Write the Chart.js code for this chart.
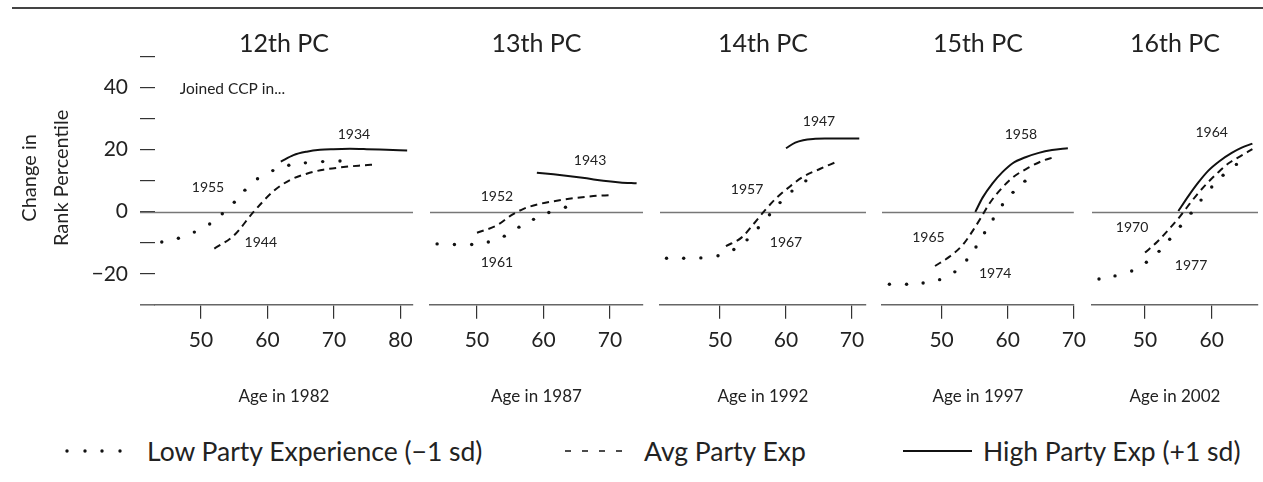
<!DOCTYPE html>
<html>
<head>
<meta charset="utf-8">
<script src="https://cdn.jsdelivr.net/npm/chart.js@4.4.1/dist/chart.umd.min.js"></script>
<style>
html,body{margin:0;padding:0;background:#fff;}
#wrap{position:relative;width:1263px;height:482px;overflow:hidden;font-family:Lato, "Noto Sans", sans-serif;color:#222;}
#wrap canvas{position:absolute;top:0;}
#topline{position:absolute;left:12px;top:7px;width:1251px;height:2px;background:#444;}
.legtxt{position:absolute;top:435px;font-size:26.5px;line-height:32px;white-space:nowrap;color:#222;}
.legsym{position:absolute;top:441px;}
</style>
</head>
<body>
<div id="wrap">
  <div id="topline"></div>
  <svg class="legsym" style="left:60px" width="70" height="20"><g fill="#111"><circle cx="7" cy="10" r="1.7"/><circle cx="25" cy="10" r="1.7"/><circle cx="42" cy="10" r="1.7"/><circle cx="60" cy="10" r="1.7"/></g></svg>
  <div class="legtxt" style="left:147px">Low Party Experience (−1 sd)</div>
  <svg class="legsym" style="left:560px" width="70" height="20"><line x1="5" y1="10" x2="64" y2="10" stroke="#111" stroke-width="1.7" stroke-dasharray="6,11"/></svg>
  <div class="legtxt" style="left:644px">Avg Party Exp</div>
  <svg class="legsym" style="left:900px" width="80" height="20"><line x1="3" y1="10" x2="72" y2="10" stroke="#111" stroke-width="2"/></svg>
  <div class="legtxt" style="left:983px">High Party Exp (+1 sd)</div>
</div>
<script>
// ---------------- data ----------------
const panelTitles = ['12th PC', '13th PC', '14th PC', '15th PC', '16th PC'];
const axisTitles = ['Age in 1982', 'Age in 1987', 'Age in 1992', 'Age in 1997', 'Age in 2002'];
const xMins = [43.08, 42.93, 40.91, 40.98, 42.05];
const xMaxs = [81.88, 74.96, 72.12, 70.0, 66.94];
const xTicks = [[50, 60, 70, 80], [50, 60, 70], [50, 60, 70], [50, 60, 70], [50, 60]];
const yMin = -30, yMax = 51.7;
const yTickValues = [-20, -10, 0, 10, 20, 30, 40, 50];
const yLabelValues = [-20, 0, 20, 40];
const yLabelTexts = ['−20', '0', '20', '40'];
const yTitle = ['Change in', 'Rank Percentile'];
const noteText = 'Joined CCP in...';
const noteAt = [46.8, 39.4];

// [age, change in rank percentile]
const low12 = [[44.1,-9.8],[46.6,-8.6],[49.0,-6.6],[51.3,-4.0],[53.2,-0.7],[55.0,3.0],[56.6,6.9],[58.5,10.6],[60.8,13.2],[63.2,14.9],[65.7,15.7],[68.3,16.1],[70.9,16.3]];
const avg12 = [[52.0,-11.9],[54.9,-7.8],[57.9,-0.1],[60.9,6.6],[63.4,10.2],[65.9,12.2],[68.4,13.5],[70.9,14.2],[73.7,14.8],[76.4,15.2]];
const high12 = [[62.0,16.1],[63.9,18.2],[65.9,19.3],[67.9,19.9],[69.9,20.1],[72.4,20.2],[74.9,20.1],[77.9,19.9],[81.0,19.7]];

const low13 = [[44.0,-10.4],[46.6,-10.6],[49.2,-10.6],[51.7,-9.8],[54.1,-7.9],[56.3,-5.0],[58.5,-2.5],[60.8,-0.3],[63.3,1.4]];
const avg13 = [[50.0,-6.8],[53.0,-4.4],[55.0,-1.4],[57.0,0.9],[59.5,2.5],[62.0,3.5],[64.5,4.3],[67.5,5.0],[70.1,5.3]];
const high13 = [[59.0,12.5],[61.5,12.0],[64.0,11.4],[66.5,10.7],[69.0,9.9],[71.5,9.4],[74.0,9.1]];

const low14 = [[41.9,-15.0],[44.5,-15.0],[47.1,-14.9],[49.7,-14.2],[52.1,-12.2],[54.1,-9.1],[55.8,-5.2],[57.5,-1.0],[59.1,2.9],[60.9,6.6],[63.0,9.9]];
const avg14 = [[50.9,-11.1],[53.3,-8.3],[55.0,-4.2],[56.8,0.4],[58.6,4.5],[60.6,8.1],[62.6,11.2],[65.2,13.8],[67.4,15.8]];
const high14 = [[60.0,20.4],[61.4,22.2],[62.6,23.0],[64.1,23.4],[65.9,23.5],[68.2,23.5],[71.1,23.5]];

const low15 = [[42.1,-23.4],[44.7,-23.4],[47.2,-23.0],[49.7,-21.9],[52.0,-19.4],[53.8,-15.6],[55.2,-11.4],[56.5,-6.8],[57.8,-2.4],[59.2,2.2],[60.8,6.2],[62.6,9.8]];
const avg15 = [[49.0,-17.5],[51.2,-14.5],[53.2,-10.7],[54.7,-6.2],[56.0,-1.8],[57.2,2.5],[58.7,6.6],[60.7,10.9],[63.2,14.2],[65.2,16.3],[67.1,17.6]];
const high15 = [[55.1,-0.1],[56.2,4.5],[57.7,9.1],[59.2,12.7],[60.7,15.5],[62.7,17.5],[64.7,18.9],[66.7,19.8],[69.1,20.4]];

const low16 = [[43.1,-21.7],[45.5,-20.7],[48.0,-19.1],[50.2,-16.3],[52.1,-12.8],[53.7,-8.9],[55.3,-4.7],[56.9,-0.5],[58.4,3.7],[60.0,7.9],[61.7,11.7],[63.7,15.2]];
const avg16 = [[50.0,-13.2],[51.8,-9.8],[53.5,-5.9],[55.0,-2.2],[56.3,1.4],[57.8,5.5],[59.3,9.1],[61.0,12.7],[62.7,15.8],[64.5,18.1],[66.1,20.1]];
const high16 = [[55.0,0.2],[56.5,5.0],[58.0,9.4],[59.5,13.2],[61.2,16.3],[63.0,18.9],[64.5,20.6],[66.1,21.9]];

const lowSeries = [low12, low13, low14, low15, low16];
const avgSeries = [avg12, avg13, avg14, avg15, avg16];
const highSeries = [high12, high13, high14, high15, high16];

// cohort (year joined) labels and where they sit, in data units
const cohortTexts = [['1934','1955','1944'], ['1943','1952','1961'], ['1947','1957','1967'], ['1958','1965','1974'], ['1964','1970','1977']];
const cohortAt = [
  [[73.0,24.9],[51.05,7.7],[59.0,-9.8]],
  [[67.0,16.6],[53.0,4.9],[53.0,-16.3]],
  [[65.0,28.9],[54.1,7.1],[60.0,-9.8]],
  [[62.0,24.9],[48.0,-8.3],[58.1,-20.0]],
  [[60.0,25.5],[48.05,-5.2],[56.9,-17.2]]
];

// ---------------- layout ----------------
const canvasLeft = [0, 410, 640, 862, 1072];
const canvasWidth = [433, 253, 246, 233, 191];
const padLeft = [0, 20, 20, 20, 20];
const padRight = [20, 20, 20, 20, 5];
const CANVAS_H = 420;
const FONT = 'Lato';
const INK = '#111';
const TXT = '#222';

Chart.defaults.font.family = FONT;

const panelPlugin = {
  id: 'panelDeco',
  beforeDatasetsDraw(chart, args, opts) {
    const {ctx, chartArea, scales: {x, y}} = chart;
    const ext = opts.ext || 0;
    ctx.save();
    ctx.strokeStyle = '#777';
    ctx.lineWidth = 1.3;
    const y0 = Math.round(y.getPixelForValue(0)) + 0.5;
    ctx.beginPath();
    ctx.moveTo(chartArea.left - ext, y0);
    ctx.lineTo(chartArea.right, y0);
    ctx.stroke();
    if (ext) {
      ctx.strokeStyle = '#666';
      ctx.lineWidth = 1.5;
      const yb = chartArea.bottom;
      ctx.beginPath();
      ctx.moveTo(chartArea.left - ext, yb);
      ctx.lineTo(chartArea.left, yb);
      ctx.stroke();
    }
    ctx.restore();
  },
  afterDatasetsDraw(chart, args, opts) {
    const {ctx, scales: {x, y}} = chart;
    ctx.save();
    ctx.fillStyle = TXT;
    ctx.font = '14px ' + FONT;
    ctx.textAlign = 'center';
    ctx.textBaseline = 'middle';
    (opts.texts || []).forEach((t, k) => {
      const [ax, ay] = opts.at[k];
      ctx.fillText(t, x.getPixelForValue(ax), y.getPixelForValue(ay));
    });
    if (opts.note) {
      ctx.font = '15.5px ' + FONT;
      ctx.textAlign = 'left';
      ctx.fillText(opts.note, x.getPixelForValue(opts.noteAt[0]), y.getPixelForValue(opts.noteAt[1]));
    }
    ctx.restore();
  }
};

const toXY = arr => arr.map(([a, v]) => ({x: a, y: v}));
const wrap = document.getElementById('wrap');

for (let i = 0; i < 5; i++) {
  const cv = document.createElement('canvas');
  cv.width = canvasWidth[i];
  cv.height = CANVAS_H;
  cv.style.left = canvasLeft[i] + 'px';
  cv.style.width = canvasWidth[i] + 'px';
  cv.style.height = CANVAS_H + 'px';
  wrap.appendChild(cv);

  const yScale = {
    type: 'linear', min: yMin, max: yMax, display: i === 0,
    afterBuildTicks: s => { s.ticks = yTickValues.map(v => ({value: v})); },
    grid: {drawOnChartArea: false, drawTicks: true, tickLength: 15, color: '#333', lineWidth: 1.2},
    border: {display: false},
    ticks: {color: TXT, font: {family: FONT, size: 21}, padding: 12, autoSkip: false,
            callback: v => { const k = yLabelValues.indexOf(v); return k >= 0 ? yLabelTexts[k] : ''; }},
    title: {display: true, text: yTitle, color: TXT, font: {family: FONT, size: 20, lineHeight: 1.6},
            padding: {top: 14, bottom: 0}}
  };
  if (i === 0) yScale.afterFit = s => { s.width = 155; };

  new Chart(cv, {
    type: 'line',
    data: {
      datasets: [
        {label: 'Low Party Experience (−1 sd)', data: toXY(lowSeries[i]), showLine: false,
         pointRadius: 1.7, pointBorderWidth: 0, pointBackgroundColor: INK, borderColor: INK},
        {label: 'Avg Party Exp', data: toXY(avgSeries[i]), borderColor: INK, borderWidth: 2,
         borderDash: [7, 5], pointRadius: 0, cubicInterpolationMode: 'monotone', fill: false},
        {label: 'High Party Exp (+1 sd)', data: toXY(highSeries[i]), borderColor: INK, borderWidth: 2,
         pointRadius: 0, cubicInterpolationMode: 'monotone', fill: false}
      ]
    },
    options: {
      responsive: false,
      animation: false,
      events: [],
      layout: {padding: {left: padLeft[i], right: padRight[i], top: 0, bottom: 9.6}},
      plugins: {
        legend: {display: false},
        tooltip: {enabled: false},
        title: {display: true, fullSize: false, text: panelTitles[i], color: TXT,
                font: {family: FONT, size: 25, weight: 'normal'}, padding: {top: 29, bottom: -8}},
        panelDeco: {
          ext: i === 0 ? 15 : 0,
          texts: cohortTexts[i], at: cohortAt[i],
          note: i === 0 ? noteText : null, noteAt: noteAt
        }
      },
      scales: {
        x: {
          type: 'linear', min: xMins[i], max: xMaxs[i],
          afterBuildTicks: s => { s.ticks = xTicks[i].map(v => ({value: v})); },
          grid: {drawOnChartArea: false, drawTicks: true, tickLength: 14, color: '#333', lineWidth: 1.2},
          border: {display: true, color: '#666', width: 1.5},
          ticks: {color: TXT, font: {family: FONT, size: 21}, padding: 9, maxRotation: 0, autoSkip: false,
                  callback: v => String(v)},
          title: {display: true, text: axisTitles[i], color: TXT, font: {family: FONT, size: 17},
                  padding: {top: 24, bottom: 4}}
        },
        y: yScale
      }
    },
    plugins: [panelPlugin]
  });
}
</script>
</body>
</html>
